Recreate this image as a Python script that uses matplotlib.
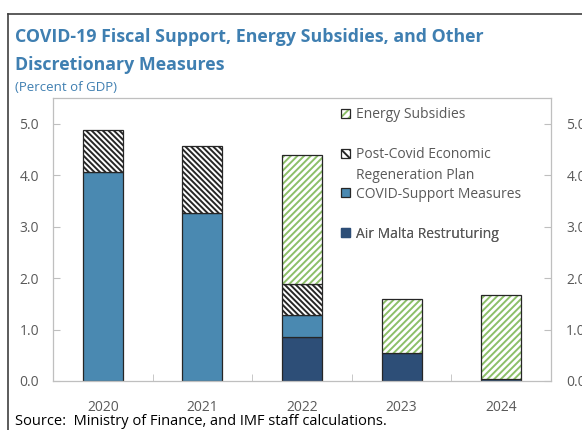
import matplotlib
matplotlib.use('Agg')
import matplotlib.pyplot as plt
from matplotlib.patches import Patch
from matplotlib.lines import Line2D
import numpy as np

years = ['2020', '2021', '2022', '2023', '2024']
air_malta = [0.0, 0.0, 0.86, 0.55, 0.04]
covid_support = [4.07, 3.26, 0.43, 0.0, 0.0]
post_covid = [0.81, 1.31, 0.60, 0.0, 0.0]
energy = [0.0, 0.0, 2.51, 1.05, 1.63]
yticks = [0, 1, 2, 3, 4, 5]

W, H = 582, 430
blue = '#4A89B1'
navy = '#2D4E77'
green = '#8CBF68'
edge = '#262626'
grey = '#BFBFBF'
txt = '#595959'
title_col = '#3F7FB1'

plt.rcParams['font.family'] = ['Open Sans', 'DejaVu Sans']
plt.rcParams['hatch.linewidth'] = 1.4

fig = plt.figure(figsize=(W / 100, H / 100), dpi=100)
ax = fig.add_axes([53 / W, 1 - 381 / H, (551 - 53) / W, (381 - 98) / H])

x = np.arange(len(years))
w = 0.4


def stack(vals, bottom, face, hatch=None, hatch_col=None):
    vals = np.array(vals)
    keep = vals > 0
    if hatch:
        ax.bar(x[keep], vals[keep], w, bottom=bottom[keep], color=face,
               edgecolor=hatch_col, hatch=hatch, linewidth=0)
        face = 'none'
    ax.bar(x[keep], vals[keep], w, bottom=bottom[keep], color=face,
           edgecolor=edge, linewidth=0.9)
    return bottom + vals


base = np.zeros(len(years))
base = stack(air_malta, base, navy)
base = stack(covid_support, base, blue)
base = stack(post_covid, base, 'white', '\\' * 6, edge)
base = stack(energy, base, 'white', '/' * 5, green)

ax.set_xlim(-0.5, 4.5)
ax.set_ylim(0, 5.5)
ax.set_xticks(x)
ax.set_xticklabels(years)
ax.set_xticks(x[:-1] + 0.5, minor=True)
ax.set_yticks(yticks)
ax.set_yticklabels(['%.1f' % v for v in yticks])
ax.tick_params(axis='x', which='major', length=0, pad=14, labelsize=10, labelcolor=txt)
ax.tick_params(axis='x', which='minor', length=5, direction='in', color=grey)
ax.tick_params(axis='y', length=5, direction='in', color=grey, pad=10,
               labelsize=10, labelcolor=txt)
for s in ax.spines.values():
    s.set_color(grey)
    s.set_linewidth(0.9)

ax2 = ax.twinx()
ax2.set_ylim(0, 5.5)
ax2.set_yticks(yticks)
ax2.set_yticklabels(['%.1f' % v for v in yticks])
ax2.tick_params(axis='y', length=5, direction='in', color=grey, pad=11,
                labelsize=10, labelcolor=txt)
for s in ax2.spines.values():
    s.set_visible(False)

# legend, one entry at a time to copy the uneven spacing
entries = [
    ((Patch(fc='white', ec=green, hatch='////', lw=0), Patch(fc='none', ec=edge, lw=0.9)),
     'Energy Subsidies', 115),
    (Patch(fc='white', ec=edge, hatch='\\\\\\\\', lw=0.9), 'Post-Covid Economic', 155),
    (Patch(fc=blue, ec=edge, lw=0.9), 'COVID-Support Measures', 194),
    (Patch(fc=navy, ec=navy, lw=0.9), 'Air Malta Restruturing', 234),
]
for h, lab, ypx in entries:
    leg = ax.legend([h], [lab], loc='center left', bbox_to_anchor=(341 / W, 1 - ypx / H),
                    bbox_transform=fig.transFigure, frameon=False, borderpad=0,
                    borderaxespad=0, handlelength=0.65, handleheight=0.65,
                    handletextpad=0.4, fontsize=10)
    for t in leg.get_texts():
        t.set_color(txt)
    ax.add_artist(leg)
# second line of the two-line legend label
fig.text(356.5 / W, 1 - 175 / H, 'Regeneration Plan', fontsize=10, color=txt, va='center')

fig.text(15 / W, 1 - 42 / H, 'COVID-19 Fiscal Support, Energy Subsidies, and Other',
         fontsize=12.8, fontweight='bold', color=title_col, va='baseline')
fig.text(15 / W, 1 - 70 / H, 'Discretionary Measures',
         fontsize=12.8, fontweight='bold', color=title_col, va='baseline')
fig.text(15 / W, 1 - 91 / H, '(Percent of GDP)', fontsize=9.5, color=title_col, va='baseline')
fig.text(15 / W, 1 - 425 / H, 'Source:  Ministry of Finance, and IMF staff calculations.',
         fontsize=10.5, color='black', va='baseline')

# outer frame of the panel
fig.add_artist(Line2D([8 / W, 8 / W], [0, 1 - 14 / H], color='#404040', lw=1.2))
fig.add_artist(Line2D([8 / W, 1], [1 - 14 / H, 1 - 14 / H], color='#404040', lw=1.2))

fig.savefig('out.png', dpi=100)
